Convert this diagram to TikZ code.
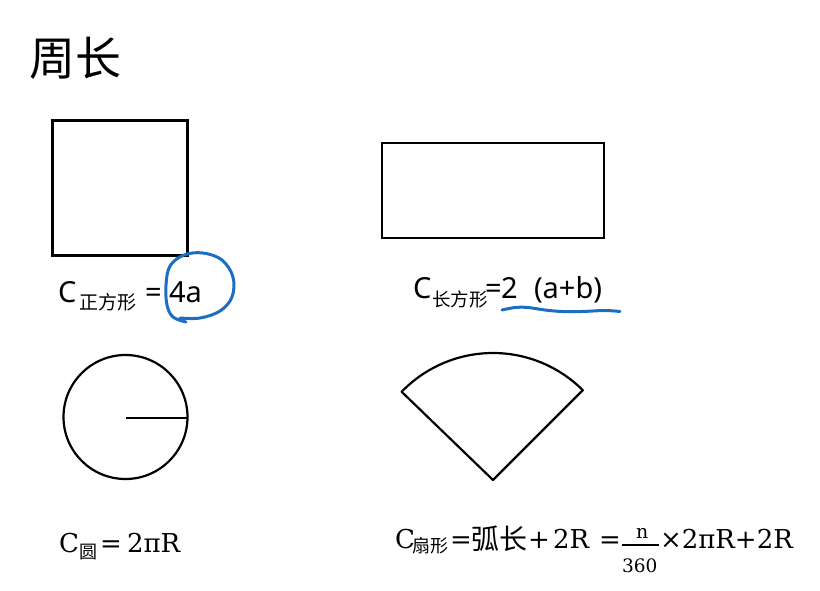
\documentclass[tikz,border=0pt]{standalone}
\usepackage{fontspec}
\setmainfont{Noto Sans}
\newfontfamily\cjk{Noto Sans CJK SC}
\newfontfamily\serifm{DejaVu Serif}
\newcommand\setsz[1]{\fontsize{#1}{#1}\selectfont}
\definecolor{penblue}{RGB}{28,110,192}
\begin{document}
\begin{tikzpicture}[x=1pt,y=-1pt,
  lbl/.style={anchor=base west, inner sep=0pt, outer sep=0pt},
  shape line/.style={draw=black, line width=2.2pt},
  pen/.style={draw=penblue, line width=3pt, line cap=round, line join=round}]
\useasboundingbox[fill=white] (0,0) rectangle (820,590);

% title
\node[lbl] (title) at (30,75) {\cjk\setsz{46}周长};

% square
\draw[shape line] (52.5,120.5) rectangle (187.5,255.5);
% rectangle
\draw[shape line] (382,143) rectangle (604,238);
% circle with radius
\draw[shape line] (125.5,417) circle[radius=62];
\draw[draw=black, line width=2.8pt] (126,418) -- (187.5,418);
% sector
\draw[shape line, line join=round] (493,480) -- ++(224:127) arc[start angle=224, end angle=315, radius=127] -- cycle;

% square formula
\node[lbl] (sqC) at (58,302) {\setsz{29}C};
\node[lbl] (sqSub) at (79,309) {\cjk\setsz{19}正方形};
\node[lbl] (sqEq) at (145,302) {\setsz{29}=};
\node[lbl] (sqVal) at (169,302) {\setsz{29}4a};
\draw[pen] plot[smooth, tension=0.6] coordinates {(186,322) (173,317) (167,305) (166,285) (170,266) (184,255) (203,253) (222,260) (233,277) (232,297) (220,311) (200,318) (180,318)};

% rectangle formula
\node[lbl] (reC) at (413,298) {\setsz{29}C};
\node[lbl] (reSub) at (432,306) {\cjk\setsz{18.5}长方形};
\node[lbl] (reEq) at (485,298) {\setsz{29}=};
\node[lbl] (reTwo) at (501,298) {\setsz{29}2};
\node[lbl] (reVal) at (534,298) {\setsz{29}(a+b)};
\draw[pen] plot[smooth, tension=0.6] coordinates {(502,310) (515,307.5) (528,307.5) (545,310) (562,311.5) (582,311.5) (605,310.5) (620,311.5)};

% circle formula
\node[lbl] (ciC) at (59,552) {\serifm\setsz{26}C};
\node[lbl] (ciSub) at (79,558) {\cjk\setsz{18}圆};
\node[lbl] (ciEq) at (100,552) {\serifm\setsz{26}=};
\node[lbl] (ciVal) at (127,552) {\serifm\setsz{26}2πR};

% sector formula
\node[lbl] (seC) at (395,548) {\serifm\setsz{26}C};
\node[lbl] (seSub) at (412,552) {\cjk\setsz{18}扇形};
\node[lbl] (seEq) at (450,548) {\serifm\setsz{26}=};
\node[lbl] (seArc) at (471,549) {\cjk\setsz{28}弧长};
\node[lbl] (sePlus) at (528,548) {\serifm\setsz{26}+};
\node[lbl] (seTwoR) at (553,548) {\serifm\setsz{26}2R};
\node[lbl] (seEq2) at (599,548) {\serifm\setsz{26}=};
\node[lbl] (seNum) at (636,538) {\serifm\setsz{19}n};
\coordinate (barL) at (622,545);
\coordinate (barR) at (659,545);
\draw[line width=1.2pt] (barL) -- (barR);
\node[lbl] (seDen) at (622,572) {\serifm\setsz{18.5}360};
\node[lbl] (seRest) at (660,548) {\serifm\setsz{26}×2πR+2R};
\end{tikzpicture}
\end{document}
